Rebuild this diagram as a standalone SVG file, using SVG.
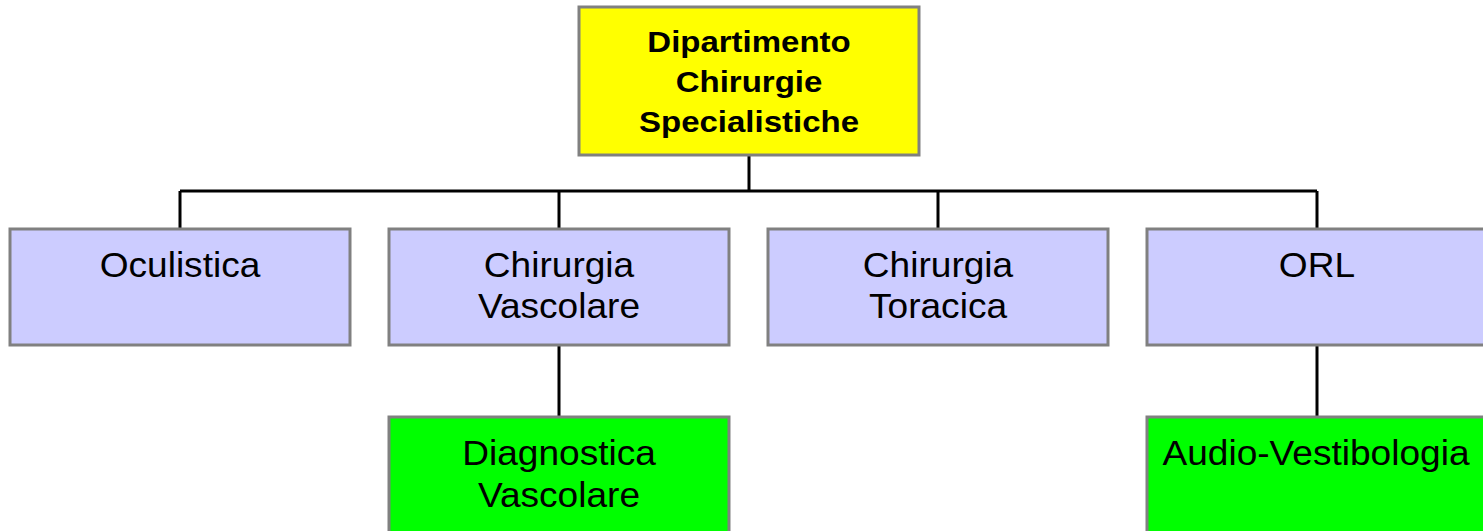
<svg xmlns="http://www.w3.org/2000/svg" width="1483" height="531" viewBox="0 0 1483 531">
<style>
.box{stroke:#808080;stroke-width:3}
.top{fill:#FFFF00}
.mid{fill:#CCCCFF}
.low{fill:#00FF00}
.t{font-family:"Liberation Sans",Arial,sans-serif;font-size:35px;fill:#000;text-anchor:middle}
.b{font-family:"Liberation Sans",Arial,sans-serif;font-size:30px;font-weight:bold;fill:#000;text-anchor:middle}
.c{stroke:#000;stroke-width:3;fill:none}
</style>
<rect width="1483" height="531" fill="#fff"/>
<g id="connectors">
<path class="c" d="M749 155V191M180 191H1317M180 191V229M559 191V229M938 191V229M1317 191V229M559 345V417M1317 345V417"/>
</g>
<g id="node-dipartimento">
<rect class="box top" x="579" y="7" width="340" height="148"/>
<text class="b" transform="translate(749,52) scale(1.1,1)">Dipartimento</text>
<text class="b" transform="translate(749,92) scale(1.1,1)">Chirurgie</text>
<text class="b" transform="translate(749,132) scale(1.1,1)">Specialistiche</text>
</g>
<g id="node-oculistica">
<rect class="box mid" x="10" y="229" width="340" height="116"/>
<text class="t" transform="translate(180,277) scale(1.06,1)">Oculistica</text>
</g>
<g id="node-chirurgia-vascolare">
<rect class="box mid" x="389" y="229" width="340" height="116"/>
<text class="t" transform="translate(559,277) scale(1.06,1)">Chirurgia</text>
<text class="t" transform="translate(559,318) scale(1.06,1)">Vascolare</text>
</g>
<g id="node-chirurgia-toracica">
<rect class="box mid" x="768" y="229" width="340" height="116"/>
<text class="t" transform="translate(938,277) scale(1.06,1)">Chirurgia</text>
<text class="t" transform="translate(938,318) scale(1.06,1)">Toracica</text>
</g>
<g id="node-orl">
<rect class="box mid" x="1147" y="229" width="340" height="116"/>
<text class="t" transform="translate(1317,277) scale(1.06,1)">ORL</text>
</g>
<g id="node-diagnostica-vascolare">
<rect class="box low" x="389" y="417" width="340" height="130"/>
<text class="t" transform="translate(559,465) scale(1.06,1)">Diagnostica</text>
<text class="t" transform="translate(559,507) scale(1.06,1)">Vascolare</text>
</g>
<g id="node-audio-vestibologia">
<rect class="box low" x="1147" y="417" width="340" height="130"/>
<text class="t" transform="translate(1316,465) scale(1.06,1)">Audio-Vestibologia</text>
</g>
</svg>
